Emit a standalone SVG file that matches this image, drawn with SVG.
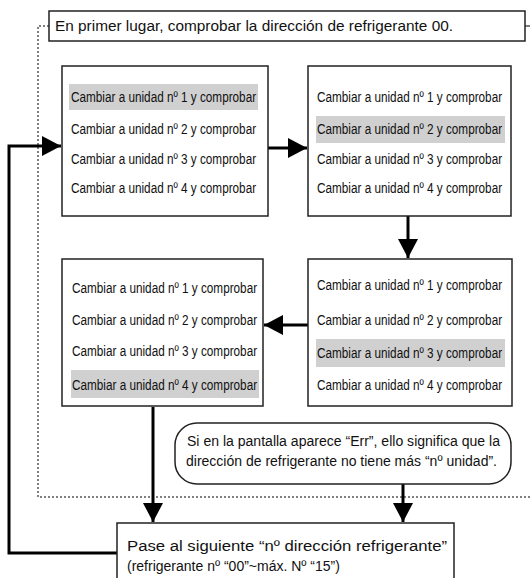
<svg xmlns="http://www.w3.org/2000/svg" width="530" height="578" viewBox="0 0 530 578">
<style>
.box{fill:#fff;stroke:#222;stroke-width:1.5}
.hl{fill:#d0d0d0}
.t{font-family:"Liberation Sans",Arial,sans-serif;font-size:15px;fill:#111}
.tb{font-family:"Liberation Sans",Arial,sans-serif;font-size:14px;fill:#111}
.ln{fill:none;stroke:#000;stroke-width:3}
.dot{fill:none;stroke:#000;stroke-width:1;stroke-dasharray:2 2}
</style>
<defs>
<marker id="ah" markerWidth="20" markerHeight="20" refX="19" refY="10" orient="auto" markerUnits="userSpaceOnUse">
<path d="M0,0 L19,10 L0,20 Z" fill="#000"/>
</marker>
</defs>
<g id="connectors">
<path class="dot" d="M49,26 H38 V497 H530"/>
<path d="M525,26 H530" stroke="#000" stroke-width="1"/>
<path class="ln" d="M268,148 H307" marker-end="url(#ah)"/>
<path class="ln" d="M408,216 V258" marker-end="url(#ah)"/>
<path class="ln" d="M308,325 H264" marker-end="url(#ah)"/>
<path class="ln" d="M153,407 V522" marker-end="url(#ah)"/>
<path class="ln" d="M403,484 V522" marker-end="url(#ah)"/>
<path class="ln" d="M117,553 H9 V146 H61" marker-end="url(#ah)"/>
</g>
<g id="top-note">
<rect class="box" x="49" y="11" width="476" height="30"/>
<text x="55" y="31" font-family="Liberation Sans,Arial,sans-serif" font-size="15.5" fill="#111" textLength="398" lengthAdjust="spacingAndGlyphs">En primer lugar, comprobar la dirección de refrigerante 00.</text>
</g>
<g id="box1">
<rect class="box" x="62" y="66" width="206" height="150"/>
<rect class="hl" x="69" y="84" width="189" height="26"/>
<g transform="translate(71,0) scale(0.783,1)">
<text class="t" x="0" y="102">Cambiar a unidad nº 1 y comprobar</text>
<text class="t" x="0" y="134">Cambiar a unidad nº 2 y comprobar</text>
<text class="t" x="0" y="164">Cambiar a unidad nº 3 y comprobar</text>
<text class="t" x="0" y="193">Cambiar a unidad nº 4 y comprobar</text>
</g>
</g>
<g id="box2">
<rect class="box" x="308" y="66" width="203" height="150"/>
<rect class="hl" x="316" y="116" width="189" height="27"/>
<g transform="translate(317,0) scale(0.783,1)">
<text class="t" x="0" y="102">Cambiar a unidad nº 1 y comprobar</text>
<text class="t" x="0" y="134">Cambiar a unidad nº 2 y comprobar</text>
<text class="t" x="0" y="164">Cambiar a unidad nº 3 y comprobar</text>
<text class="t" x="0" y="193">Cambiar a unidad nº 4 y comprobar</text>
</g>
</g>
<g id="box3">
<rect class="box" x="308" y="259" width="204" height="147"/>
<rect class="hl" x="316" y="339" width="189" height="28"/>
<g transform="translate(317,0) scale(0.783,1)">
<text class="t" x="0" y="290">Cambiar a unidad nº 1 y comprobar</text>
<text class="t" x="0" y="325">Cambiar a unidad nº 2 y comprobar</text>
<text class="t" x="0" y="358">Cambiar a unidad nº 3 y comprobar</text>
<text class="t" x="0" y="390">Cambiar a unidad nº 4 y comprobar</text>
</g>
</g>
<g id="box4">
<rect class="box" x="62" y="259" width="201" height="147"/>
<rect class="hl" x="71" y="370" width="188" height="28"/>
<g transform="translate(72,0) scale(0.783,1)">
<text class="t" x="0" y="293">Cambiar a unidad nº 1 y comprobar</text>
<text class="t" x="0" y="325">Cambiar a unidad nº 2 y comprobar</text>
<text class="t" x="0" y="356">Cambiar a unidad nº 3 y comprobar</text>
<text class="t" x="0" y="390">Cambiar a unidad nº 4 y comprobar</text>
</g>
</g>
<g id="note-err">
<rect class="box" x="175" y="423" width="336" height="61" rx="22" ry="22"/>
<text class="tb" x="187" y="446" textLength="313" lengthAdjust="spacingAndGlyphs">Si en la pantalla aparece “Err”, ello significa que la</text>
<text class="tb" x="186" y="466" textLength="311" lengthAdjust="spacingAndGlyphs">dirección de refrigerante no tiene más “nº unidad”.</text>
</g>
<g id="next-address">
<rect class="box" x="117" y="523" width="337" height="70"/>
<text class="tb" x="127" y="551" textLength="320" lengthAdjust="spacingAndGlyphs">Pase al siguiente “nº dirección refrigerante”</text>
<text class="tb" x="127" y="571">(refrigerante nº “00”~máx. Nº “15”)</text>
</g>
</svg>
